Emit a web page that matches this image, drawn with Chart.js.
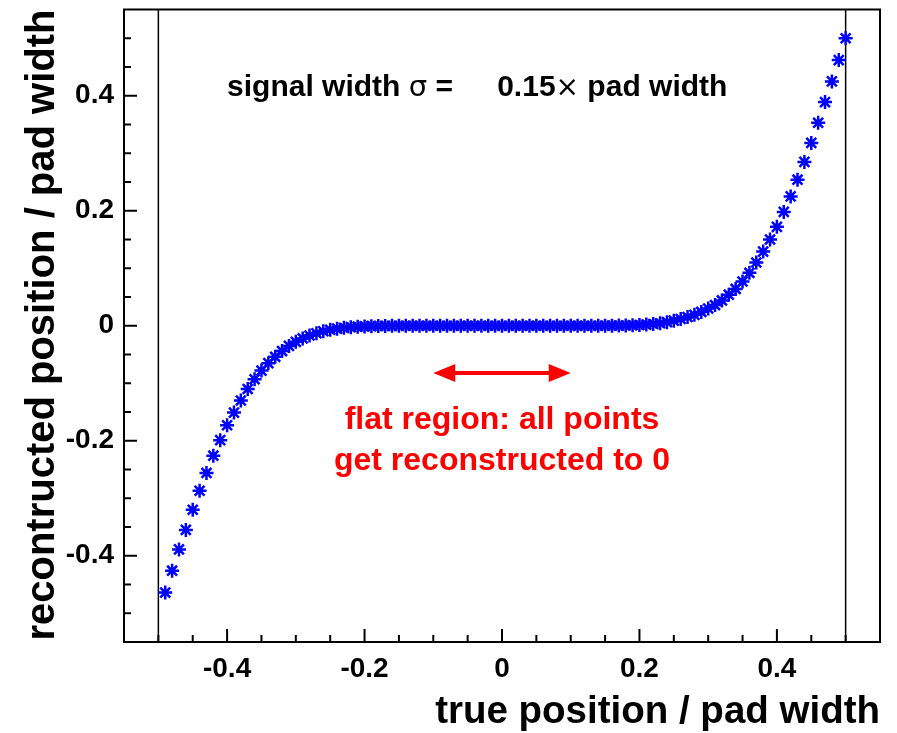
<!DOCTYPE html>
<html lang="en">
<head>
  <meta charset="UTF-8">
  <title>Reconstructed vs true position</title>
  <script src="https://cdn.jsdelivr.net/npm/chart.js"></script>
  <style>
    html, body { margin: 0; padding: 0; background: #fff; }
    canvas { display: block; }
  </style>
</head>
<body>
  <canvas id="posChart" width="897" height="733"></canvas>
  <script>
    // true position / pad width
    const truePos = [
      -0.49, -0.48, -0.47, -0.46, -0.45, -0.44, -0.43, -0.42, -0.41, -0.40,
      -0.39, -0.38, -0.37, -0.36, -0.35, -0.34, -0.33, -0.32, -0.31, -0.30,
      -0.29, -0.28, -0.27, -0.26, -0.25, -0.24, -0.23, -0.22, -0.21, -0.20,
      -0.19, -0.18, -0.17, -0.16, -0.15, -0.14, -0.13, -0.12, -0.11, -0.10,
      -0.09, -0.08, -0.07, -0.06, -0.05, -0.04, -0.03, -0.02, -0.01, 0.00,
      0.01, 0.02, 0.03, 0.04, 0.05, 0.06, 0.07, 0.08, 0.09, 0.10,
      0.11, 0.12, 0.13, 0.14, 0.15, 0.16, 0.17, 0.18, 0.19, 0.20,
      0.21, 0.22, 0.23, 0.24, 0.25, 0.26, 0.27, 0.28, 0.29, 0.30,
      0.31, 0.32, 0.33, 0.34, 0.35, 0.36, 0.37, 0.38, 0.39, 0.40,
      0.41, 0.42, 0.43, 0.44, 0.45, 0.46, 0.47, 0.48, 0.49, 0.50
    ];
    // reconstructed position / pad width
    const recoPos = [
      -0.464, -0.426, -0.389, -0.355, -0.320, -0.287, -0.256, -0.226, -0.199, -0.173,
      -0.151, -0.130, -0.110, -0.093, -0.078, -0.065, -0.054, -0.044, -0.035, -0.028,
      -0.022, -0.017, -0.013, -0.0095, -0.0070, -0.0050, -0.0036, -0.0025, -0.0017, -0.0011,
      -0.0007, -0.0004, -0.0003, -0.0002, -0.0001, 0, 0, 0, 0, 0,
      0, 0, 0, 0, 0, 0, 0, 0, 0, 0,
      0, 0, 0, 0, 0, 0, 0, 0, 0, 0,
      0, 0, 0, 0, 0.0001, 0.0002, 0.0003, 0.0005, 0.0008, 0.0013,
      0.0020, 0.0030, 0.0043, 0.0062, 0.0088, 0.0118, 0.0152, 0.019, 0.024, 0.030,
      0.036, 0.044, 0.054, 0.064, 0.077, 0.092, 0.110, 0.129, 0.150, 0.172,
      0.198, 0.225, 0.254, 0.285, 0.318, 0.353, 0.389, 0.425, 0.462, 0.500
    ];
    const xTickLabels = [-0.4, -0.2, 0, 0.2, 0.4];
    const yTickLabels = [-0.4, -0.2, 0, 0.2, 0.4];
    const padEdges = [-0.5, 0.5];
    const flatArrow = [-0.1, 0.1];

    const AXIS_MIN = -0.55, AXIS_MAX = 0.55;
    const FONT = '"Liberation Sans", Arial, Helvetica, sans-serif';

    function fmtTick(v) {
      return Math.abs(v) < 1e-9 ? '0' : v.toFixed(1);
    }

    // frame, inward ticks and the pad edge lines
    const framePlugin = {
      id: 'frame',
      beforeDraw(chart) {
        const ctx = chart.ctx;
        ctx.save();
        ctx.fillStyle = '#fff';
        ctx.fillRect(0, 0, chart.width, chart.height);
        ctx.restore();
      },
      beforeDatasetsDraw(chart) {
        const { ctx, chartArea: a, scales: { x, y } } = chart;
        ctx.save();
        ctx.strokeStyle = '#000';

        ctx.lineWidth = 1.5;
        padEdges.forEach(v => {
          const px = x.getPixelForValue(v);
          ctx.beginPath();
          ctx.moveTo(px, a.top);
          ctx.lineTo(px, a.bottom);
          ctx.stroke();
        });

        ctx.lineWidth = 2;
        for (let k = -10; k <= 10; k++) {
          const v = k * 0.05;
          const len = k % 4 === 0 ? 13 : 7;
          const px = x.getPixelForValue(v);
          ctx.beginPath();
          ctx.moveTo(px, a.bottom);
          ctx.lineTo(px, a.bottom - len);
          ctx.stroke();
          const py = y.getPixelForValue(v);
          ctx.beginPath();
          ctx.moveTo(a.left, py);
          ctx.lineTo(a.left + len, py);
          ctx.stroke();
        }

        ctx.strokeRect(a.left, a.top, a.right - a.left, a.bottom - a.top);
        ctx.restore();
      },
      afterDraw(chart) {
        const { ctx, scales: { x, y } } = chart;
        ctx.save();
        ctx.textBaseline = 'alphabetic';

        // signal width label
        ctx.fillStyle = '#000';
        let tx = x.getPixelForValue(-0.4);
        const ty = y.getPixelForValue(0.4);
        [
          ['signal width ', 'bold 30px ' + FONT],
          ['\u03c3', '29px "DejaVu Sans", sans-serif'],
          [' =', 'bold 30px ' + FONT]
        ].forEach(([t, f]) => {
          ctx.font = f;
          ctx.fillText(t, tx, ty);
          tx += ctx.measureText(t).width;
        });
        tx = x.getPixelForValue(-0.007);
        [
          ['0.15', 'bold 30px ' + FONT],
          ['\u00d7', '28px "DejaVu Sans", sans-serif'],
          [' pad width', 'bold 30px ' + FONT]
        ].forEach(([t, f]) => {
          ctx.font = f;
          ctx.fillText(t, tx, ty);
          tx += ctx.measureText(t).width;
        });

        // double arrow over the flat region
        const x0 = x.getPixelForValue(flatArrow[0]);
        const x1 = x.getPixelForValue(flatArrow[1]);
        const ay = y.getPixelForValue(-0.082);
        const head = 22, half = 9;
        ctx.strokeStyle = '#ff0000';
        ctx.fillStyle = '#ff0000';
        ctx.lineWidth = 4;
        ctx.beginPath();
        ctx.moveTo(x0 + head - 2, ay);
        ctx.lineTo(x1 - head + 2, ay);
        ctx.stroke();
        ctx.beginPath();
        ctx.moveTo(x0, ay);
        ctx.lineTo(x0 + head, ay - half);
        ctx.lineTo(x0 + head, ay + half);
        ctx.closePath();
        ctx.fill();
        ctx.beginPath();
        ctx.moveTo(x1, ay);
        ctx.lineTo(x1 - head, ay - half);
        ctx.lineTo(x1 - head, ay + half);
        ctx.closePath();
        ctx.fill();

        ctx.font = 'bold 32px ' + FONT;
        ctx.textAlign = 'center';
        const cx = x.getPixelForValue(0);
        ctx.fillText('flat region: all points', cx, y.getPixelForValue(-0.18));
        ctx.fillText('get reconstructed to 0', cx, y.getPixelForValue(-0.25));
        ctx.restore();
      }
    };

    new Chart(document.getElementById('posChart'), {
      type: 'scatter',
      data: {
        datasets: [{
          data: truePos.map((v, i) => ({ x: v, y: recoPos[i] })),
          pointStyle: 'star',
          pointRadius: 7,
          pointHoverRadius: 7,
          pointBorderWidth: 2.5,
          borderColor: '#0000ff',
          backgroundColor: '#0000ff'
        }]
      },
      options: {
        responsive: false,
        animation: false,
        devicePixelRatio: 1,
        layout: { padding: { top: 7, right: 17, left: 0, bottom: 0 } },
        plugins: { legend: { display: false }, tooltip: { enabled: false } },
        scales: {
          x: {
            type: 'linear',
            min: AXIS_MIN,
            max: AXIS_MAX,
            afterFit: s => {
              s.height = 91;
              s.paddingLeft = 0;
              s.paddingRight = 0;
            },
            afterBuildTicks: s => { s.ticks = xTickLabels.map(v => ({ value: v })); },
            grid: { display: false, drawTicks: false },
            border: { display: false },
            ticks: {
              color: '#000',
              padding: 10,
              maxRotation: 0,
              autoSkip: false,
              font: { family: FONT, size: 28, weight: 'bold' },
              callback: v => fmtTick(v)
            },
            title: {
              display: true,
              text: 'true position / pad width',
              align: 'end',
              color: '#000',
              padding: { top: 0, bottom: -2 },
              font: { family: FONT, size: 38.5, weight: 'bold' }
            }
          },
          y: {
            type: 'linear',
            min: AXIS_MIN,
            max: AXIS_MAX,
            afterFit: s => {
              s.width = 124;
              s.paddingTop = 0;
              s.paddingBottom = 0;
            },
            afterBuildTicks: s => { s.ticks = yTickLabels.map(v => ({ value: v })); },
            grid: { display: false, drawTicks: false },
            border: { display: false },
            ticks: {
              color: '#000',
              padding: 10,
              autoSkip: false,
              font: { family: FONT, size: 28, weight: 'bold' },
              callback: v => fmtTick(v)
            },
            title: {
              display: true,
              text: 'recontructed position / pad width',
              align: 'end',
              color: '#000',
              padding: { top: 19, bottom: 0 },
              font: { family: FONT, size: 40, weight: 'bold' }
            }
          }
        }
      },
      plugins: [framePlugin]
    });
  </script>
</body>
</html>
